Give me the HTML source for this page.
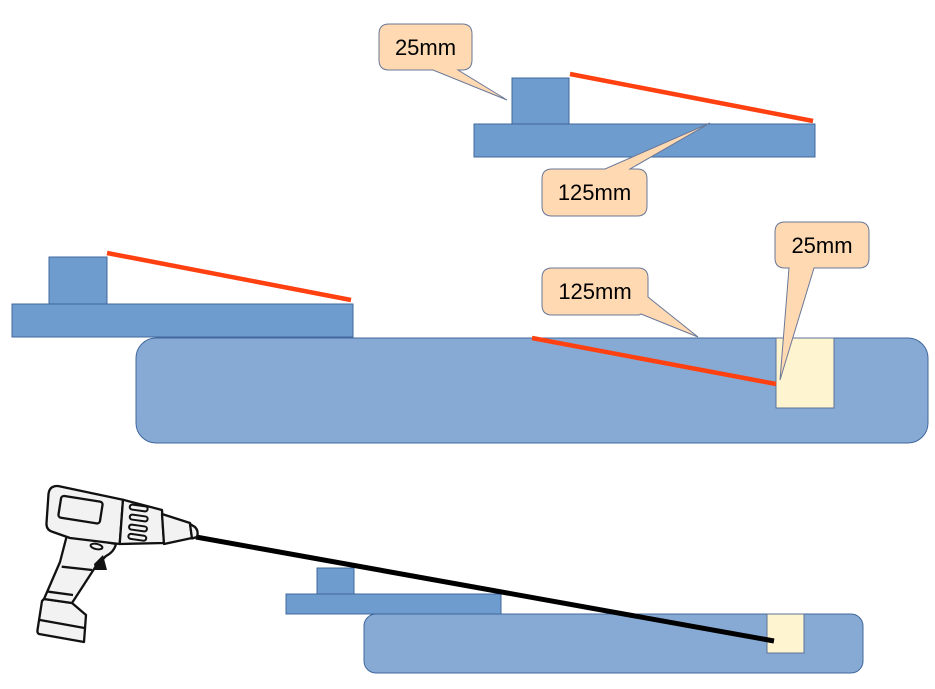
<!DOCTYPE html>
<html>
<head>
<meta charset="utf-8">
<style>
  html,body{margin:0;padding:0;background:#fff;}
  svg{display:block;}
  text{font-family:"Liberation Sans",Arial,sans-serif;font-size:22px;fill:#000;}
</style>
</head>
<body>
<svg width="935" height="689" viewBox="0 0 935 689" xmlns="http://www.w3.org/2000/svg">
  <!-- TOP SECTION -->
  <rect x="474" y="124" width="341" height="33" fill="#6e9ccf" stroke="#41689c" stroke-width="1"/>
  <rect x="512" y="78" width="57" height="46" fill="#6e9ccf" stroke="#41689c" stroke-width="1"/>
  <line x1="570" y1="74" x2="813" y2="121" stroke="#ff4010" stroke-width="4.5"/>

  <path d="M389,24 H462 Q472,24 472,34 V60 Q472,70 462,70 H458 L507,100 L433,70 H389 Q379,70 379,60 V34 Q379,24 389,24 Z" fill="#ffd9b2" stroke="#6a7898" stroke-width="1"/>
  <text x="425.5" y="55" text-anchor="middle">25mm</text>

  <path d="M552,169 H605 L710,123 L630,169 H637 Q647,169 647,179 V206 Q647,216 637,216 H552 Q542,216 542,206 V179 Q542,169 552,169 Z" fill="#ffd9b2" stroke="#6a7898" stroke-width="1"/>
  <text x="594.5" y="200" text-anchor="middle">125mm</text>

  <!-- MIDDLE SECTION -->
  <rect x="12" y="304" width="341" height="33" fill="#6e9ccf" stroke="#41689c" stroke-width="1"/>
  <rect x="49" y="257" width="58" height="47" fill="#6e9ccf" stroke="#41689c" stroke-width="1"/>
  <line x1="107" y1="253" x2="351" y2="300" stroke="#ff4010" stroke-width="4.5"/>

  <rect x="136" y="338" width="792" height="105" rx="20" ry="20" fill="#87aad5" stroke="#41689c" stroke-width="1"/>
  <rect x="776" y="338" width="58" height="70" fill="#fff4d0" stroke="#5b7396" stroke-width="1"/>
  <line x1="532" y1="338" x2="776" y2="384" stroke="#ff4010" stroke-width="4.5"/>

  <path d="M552,268 H638 Q648,268 648,278 V297 L698,337 L641,314 Q640,315 638,315 H552 Q542,315 542,305 V278 Q542,268 552,268 Z" fill="#ffd9b2" stroke="#6a7898" stroke-width="1"/>
  <text x="595" y="299" text-anchor="middle">125mm</text>

  <path d="M785,222 H859 Q869,222 869,232 V258 Q869,268 859,268 H814 L780,380 L789,268 H785 Q775,268 775,258 V232 Q775,222 785,222 Z" fill="#ffd9b2" stroke="#6a7898" stroke-width="1"/>
  <text x="822" y="253" text-anchor="middle">25mm</text>

  <!-- BOTTOM SECTION -->
  <rect x="286" y="594" width="215" height="20" fill="#6e9ccf" stroke="#41689c" stroke-width="1"/>
  <rect x="317" y="568" width="37" height="26" fill="#6e9ccf" stroke="#41689c" stroke-width="1"/>
  <rect x="364" y="614" width="499" height="59" rx="12" ry="12" fill="#87aad5" stroke="#41689c" stroke-width="1"/>
  <rect x="767" y="614" width="37" height="39" fill="#fff4d0" stroke="#5b7396" stroke-width="1"/>
  <line x1="196" y1="537" x2="774" y2="641" stroke="#000" stroke-width="5"/>

  <!-- DRILL -->
  <g fill="#f2f2f2" stroke="#111" stroke-width="2.3" stroke-linejoin="round">
    <!-- battery -->
    <path d="M44,599 L72,603 L86,615 L84,642 L39,634 Q37,633 37.5,630 L42,601 Z"/>
    <line x1="40" y1="620" x2="84.5" y2="628"/>
    <!-- handle -->
    <path d="M67,535 L116,544 Q114,552 106,556 L96,566 L72,603 L44,599 L60,562 Z"/>
    <line x1="61.7" y1="566.7" x2="92" y2="570"/>
    <line x1="48.3" y1="591.7" x2="73" y2="595"/>
    <!-- main body -->
    <path d="M58,486 L123,499.7 L119.7,544 L70,538 L53,532 Q46,530 46.5,523 L48.5,494 Q49.5,485.5 58,486 Z"/>
    <!-- screen -->
    <rect x="59.5" y="498.7" width="42" height="22" rx="3" transform="rotate(9 80.5 509.7)"/>
    <!-- vent section -->
    <path d="M123,499.7 L162,510 L164,543 L119.7,544 Z"/>
    <!-- chuck -->
    <path d="M162,514 L190,523 L192,538 L164,544 Z"/>
    <path d="M190,524 L195,527 Q199,531 197,537 L192,538.5 Z"/>
  </g>
  <g fill="none" stroke="#111" stroke-width="2">
    <rect x="129.7" y="505.5" width="18" height="5" rx="2.5" transform="rotate(8 138.7 508)"/>
    <rect x="129.7" y="515.5" width="18" height="5" rx="2.5" transform="rotate(8 138.7 518)"/>
    <rect x="129" y="525.5" width="18" height="5" rx="2.5" transform="rotate(8 138 528)"/>
    <rect x="128.3" y="534.8" width="18" height="5" rx="2.5" transform="rotate(8 137.3 537.3)"/>
    <ellipse cx="96.5" cy="546.5" rx="6" ry="2.6" transform="rotate(12 96.5 546.5)" fill="#f2f2f2"/>
  </g>
  <path d="M94,564 L103,555 L107,570 L95,570 Z" fill="#111"/>
</svg>
</body>
</html>
